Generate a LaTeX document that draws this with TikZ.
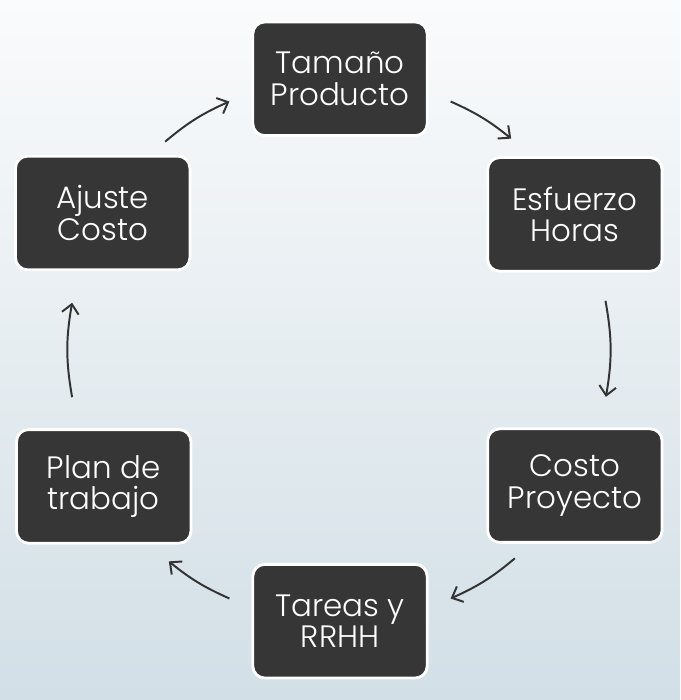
\documentclass[tikz,border=0pt]{standalone}
\usepackage{fontspec}
\setmainfont{Poppins}[UprightFont=* Light]
\usetikzlibrary{calc,arrows.meta}
\definecolor{boxgray}{HTML}{363636}
\definecolor{arrowgray}{HTML}{333333}
\definecolor{bgtop}{HTML}{FAFBFC}
\definecolor{bgbottom}{HTML}{D2DFE6}

\begin{document}
\begin{tikzpicture}[
    stage/.style={draw=white,line width=2pt,fill=boxgray,rounded corners=0.3cm,
      minimum width=4.36cm,minimum height=2.84cm,text=white,align=center,
      font=\fontsize{22}{22.5}\selectfont},
    cycle/.style={draw=arrowgray,line width=1.4pt,-{Straight Barb[length=6.5pt,width=12pt]}}]
        \shade [top color=bgtop,bottom color=bgbottom] (0,0) rectangle (17,17.5);
        \coordinate (o) at (8.5,8.75);
      \node [stage] (tamano) at ($(o)+(90:6.78)$) {Tamaño\\Producto};
      \node [stage] (esfuerzo) at ($(o)+(30:6.78)$) {Esfuerzo\\Horas};
      \node [stage] (costo) at ($(o)+(-30:6.78)$) {Costo\\Proyecto};
      \node [stage] (tareas) at ($(o)+(-90:6.78)$) {Tareas y\\RRHH};
      \node [stage] (plan) at ($(o)+(-150:6.82)$) {Plan de\\trabajo};
      \node [stage] (ajuste) at ($(o)+(150:6.85)$) {Ajuste\\Costo};
        \coordinate (t1) at ($(o)+(66:6.8)$); \coordinate (h1) at ($(o)+(51:6.8)$);
        \coordinate (t2) at ($(o)+(10.5:6.75)$); \coordinate (h2) at ($(o)+(-10:6.75)$);
        \coordinate (t3) at ($(o)+(-50:6.8)$); \coordinate (h3) at ($(o)+(-66:6.8)$);
        \coordinate (t4) at ($(o)+(-114:6.8)$); \coordinate (h4) at ($(o)+(-129:6.8)$);
        \coordinate (t5) at ($(o)+(190:6.8)$); \coordinate (h5) at ($(o)+(170:6.8)$);
        \coordinate (t6) at ($(o)+(130:6.8)$); \coordinate (h6) at ($(o)+(114:6.8)$);
        \draw [cycle] (t1) to[bend left=7.5] (h1);
        \draw [cycle] (t2) to[bend left=10] (h2);
        \draw [cycle] (t3) to[bend left=8] (h3);
        \draw [cycle] (t4) to[bend left=7.5] (h4);
        \draw [cycle] (t5) to[bend left=10] (h5);
        \draw [cycle] (t6) to[bend left=8] (h6);
    \end{tikzpicture}
\end{document}
